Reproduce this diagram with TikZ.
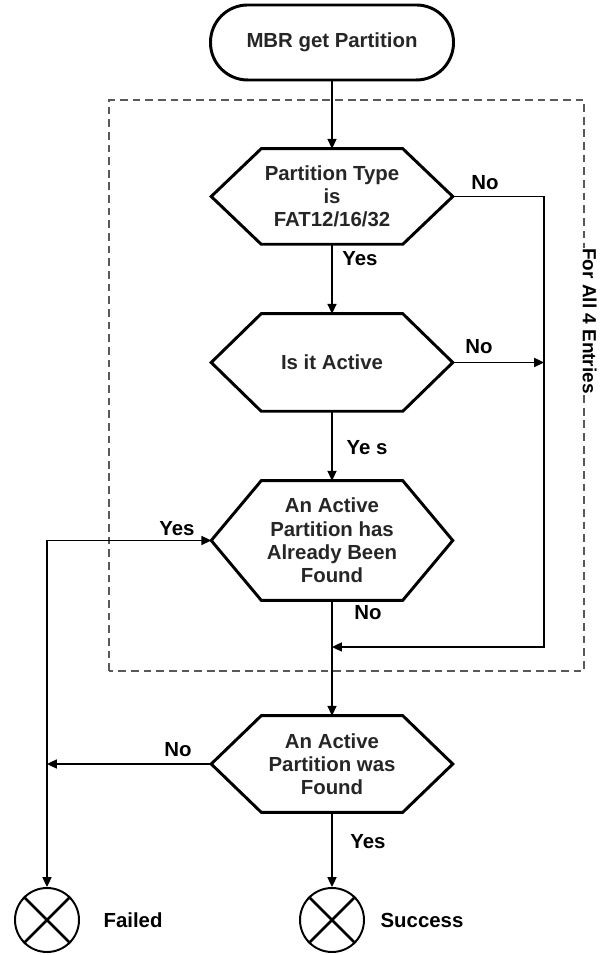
\documentclass[tikz,border=0pt]{standalone}
\usepackage{fontspec}
\setmainfont{Liberation Sans}
\usepackage{xcolor}
\usetikzlibrary{arrows.meta}

\begin{document}
\begin{tikzpicture}[
    >={Triangle[length=7pt,width=6.5pt]},
    decision text/.style = {align=center, inner sep=0pt, minimum width=6.025cm, font=\bfseries\fontsize{14.5}{16.5}\selectfont, text=black!85},
    start node/.style = {draw, rounded corners=0.93cm, line width=2.1pt, minimum width=6.075cm, minimum height=1.875cm, font=\bfseries\fontsize{14.5}{16.5}\selectfont, text=black!85},
    hex line/.style = {line width=2.1pt},
    flow/.style = {line width=0.9pt, ->},
    answer/.style = {font=\bfseries\fontsize{14.5}{16.5}\selectfont},
    end circle/.style = {circle, draw, line width=1.4pt, minimum size=1.6cm, inner sep=0pt},
    cross line/.style = {line width=2pt}
]
\useasboundingbox (0,0) rectangle (15,23.875);

% --- MARCO DEL BUCLE ---
\draw[gray!70!black, line width=0.8pt, dash pattern=on 5.5pt off 3.5pt] (2.725,7.1) rectangle (14.6,21.375);
\node[answer, font=\bfseries\fontsize{13.5}{15}\selectfont, rotate=-90, fill=white, inner sep=0.5pt] (loop) at (14.74,15.85) {For All 4 Entries};

% --- INICIO ---
\node[start node] (start) at (8.3,22.8125) {MBR get Partition};

% Decision: \drawdecision{name}{y}{height}{text}
\def\drawdecision#1#2#3#4{
    \node[decision text, minimum height=#3cm] (#1) at (8.3,#2) {#4};
    \draw[hex line] (#1.west) -- ([xshift=1.25cm]#1.north west) -- ([xshift=-1.25cm]#1.north east)
        -- (#1.east) -- ([xshift=-1.25cm]#1.south east) -- ([xshift=1.25cm]#1.south west) -- cycle;
}

% --- DECISIONES ---
\drawdecision{type}{18.9625}{2.375}{Partition Type\\ is\\ FAT12/16/32}
\drawdecision{active}{14.8125}{2.425}{Is it Active}
\drawdecision{found}{10.3625}{2.975}{An Active\\ Partition has\\ Already Been\\ Found}
\drawdecision{wasfound}{4.775}{2.4}{An Active\\ Partition was\\ Found}

% --- FINALES ---
\node[end circle] (failed) at (1.175,0.875) {};
\node[end circle] (success) at (8.3,0.875) {};
\draw[cross line] (failed.north west) -- (failed.south east) (failed.north east) -- (failed.south west);
\draw[cross line] (success.north west) -- (success.south east) (success.north east) -- (success.south west);
\node[answer] (failedtxt) at (3.325,0.875) {Failed};
\node[answer] (successtxt) at (10.55,0.875) {Success};

% --- CONEXIONES ---
\draw[flow] (start) -- (type);
\draw[flow] (type) -- (active);
\draw[flow] (active) -- (found);
\draw[flow] (found) -- (wasfound);
\draw[flow] (wasfound) -- (success);

\coordinate (rjoin) at (13.6,7.7);
\coordinate (mjoin) at (8.3,7.7);
\draw[flow] (type.east) -| (rjoin) -- (mjoin);
\draw[flow] (active.east) -- (active.east -| rjoin);

\draw[flow, <->] (failed) |- (found.west);
\draw[flow] (wasfound.west) -- (wasfound.west -| failed);

% --- ETIQUETAS ---
\node[answer] (no1) at (12.125,19.3) {No};
\node[answer] (yes1) at (9.0,17.4) {Yes};
\node[answer] (no2) at (11.975,15.2) {No};
\node[answer] (yes2) at (9.175,12.675) {Ye s};
\node[answer] (yes3) at (4.425,10.65) {Yes};
\node[answer] (no3) at (9.2,8.55) {No};
\node[answer] (no4) at (4.45,5.125) {No};
\node[answer] (yes4) at (9.2,2.825) {Yes};

\end{tikzpicture}
\end{document}
